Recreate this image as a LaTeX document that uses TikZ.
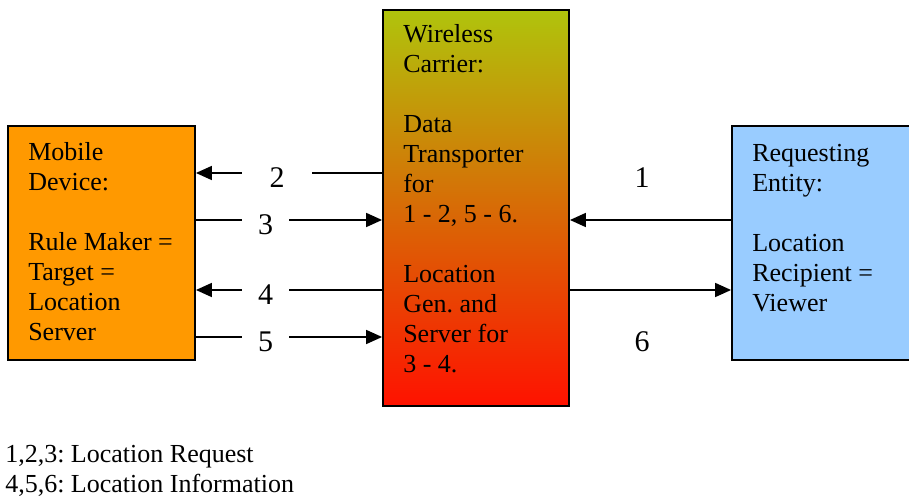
\documentclass[tikz,border=0pt]{standalone}
\usepackage{fontspec}
\setmainfont{Liberation Serif}
\usetikzlibrary{arrows.meta}
\frenchspacing
\definecolor{mobileorange}{HTML}{FF9900}
\definecolor{viewerblue}{HTML}{99CCFF}
\definecolor{carriertop}{HTML}{B0C40C}
\definecolor{carriermid}{HTML}{DA8E0E}
\definecolor{carrierbot}{HTML}{FF1200}
\begin{document}
\begin{tikzpicture}[x=0.75pt,y=-0.75pt,
  box/.style={draw=black, line width=1.4pt, rectangle, inner sep=0pt},
  boxtext/.style={anchor=base west, inner sep=0pt, font=\fontsize{19.5}{22.5}\selectfont},
  num/.style={inner sep=0pt, text height=22.5pt, text depth=0pt, font=\fontsize{22.5}{27}\selectfont},
  plainnum/.style={anchor=base, inner sep=0pt, font=\fontsize{22.5}{27}\selectfont},
  flow/.style={line width=1.3pt, draw=black},
  tip/.style={-{Triangle[length=12pt,width=10.5pt]}}]
\useasboundingbox (0,0) rectangle (909,498);

% the three parties
\node[box, fill=mobileorange, minimum width=140.25pt, minimum height=175.5pt] (mobile) at (101.5,243) {};
\node[box, top color=carriertop, middle color=carriermid, bottom color=carrierbot,
      minimum width=139.5pt, minimum height=297pt] (carrier) at (476,208) {};
\node[box, fill=viewerblue, minimum width=133.5pt, minimum height=175.5pt] (viewer) at (821,243) {};

\node[boxtext] (mobiletext) at (28,161) {\begin{tabular}[t]{@{}l@{}}Mobile\\Device:\\ \\Rule Maker =\\Target =\\Location\\Server\end{tabular}};
\node[boxtext] (carriertext) at (403,43) {\begin{tabular}[t]{@{}l@{}}Wireless\\Carrier:\\ \\Data\\Transporter\\for\\1 - 2, 5 - 6.\\ \\Location\\Gen. and\\Server for\\3 - 4.\end{tabular}};
\node[boxtext] (viewertext) at (752,162) {\begin{tabular}[t]{@{}l@{}}Requesting\\Entity:\\ \\Location\\Recipient =\\Viewer\end{tabular}};

% message numbers between mobile device and carrier
\node[num, minimum width=52.5pt] (n2) at (277,173) {2\hspace{13.5pt}};
\node[num, minimum width=35.25pt] (n3) at (265.5,220) {3};
\node[num, minimum width=35.25pt] (n4) at (265.5,290) {4};
\node[num, minimum width=35.25pt] (n5) at (265.5,337) {5};

\draw[flow] (carrier.west |- n2) -- (n2.east);
\draw[flow,tip] (n2.west) -- (mobile.east |- n2);
\draw[flow] (mobile.east |- n3) -- (n3.west);
\draw[flow,tip] (n3.east) -- (carrier.west |- n3);
\draw[flow] (carrier.west |- n4) -- (n4.east);
\draw[flow,tip] (n4.west) -- (mobile.east |- n4);
\draw[flow] (mobile.east |- n5) -- (n5.west);
\draw[flow,tip] (n5.east) -- (carrier.west |- n5);

% messages between carrier and requesting entity
\coordinate (r1) at (650,220);
\coordinate (r6) at (650,290);
\node[plainnum] (n1) at (642,188) {1};
\node[plainnum] (n6) at (642,352) {6};
\draw[flow,tip] (viewer.west |- r1) -- (carrier.east |- r1);
\draw[flow,tip] (carrier.east |- r6) -- (viewer.west |- r6);

% legend
\node[boxtext] (legend) at (5,462) {\begin{tabular}[t]{@{}l@{}}1,2,3: Location Request\\4,5,6: Location Information\end{tabular}};
\end{tikzpicture}
\end{document}
